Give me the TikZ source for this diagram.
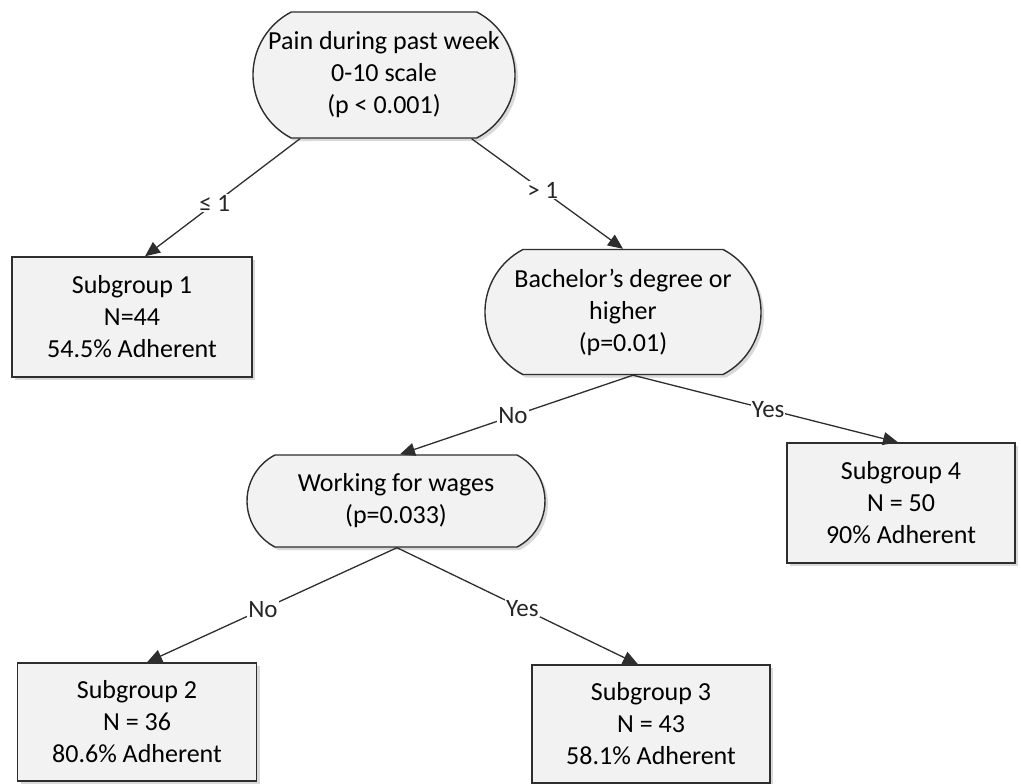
\documentclass[tikz,border=0pt]{standalone}
\usepackage{fontspec}
\setmainfont{Carlito}
\usetikzlibrary{shapes.misc,arrows.meta,calc,shadows}
\definecolor{edgegray}{HTML}{2E2E2E}
\definecolor{boxfill}{HTML}{F2F2F2}
\tikzset{
  base/.style={draw=edgegray, line width=1.4pt, fill=boxfill, align=center,
    font=\fontsize{26}{32}\selectfont, inner sep=0pt,
    drop shadow={shadow xshift=3pt, shadow yshift=-3pt, fill=black!25, opacity=0.6}},
  decision/.style={base, rounded rectangle, rounded rectangle arc length=125},
  leaf/.style={base, rectangle},
  conn/.style={draw=edgegray, line width=1.3pt, -{Triangle[length=15pt,width=13pt]}},
  elabel/.style={fill=white, inner sep=1pt, font=\fontsize{25}{30}\selectfont, text=black!85},
}
\begin{document}
\begin{tikzpicture}[x=1pt,y=-1pt]
\useasboundingbox (0,0) rectangle (1021,784);
\node[decision, minimum width=262pt, minimum height=126pt] (root) at (384,75)
  {Pain during past week\\0-10 scale\\(p {\textless} 0.001)};
\node[leaf, minimum width=240pt, minimum height=120pt] (s1) at (132,317)
  {Subgroup 1\\N=44\\54.5\% Adherent};
\node[decision, minimum width=276pt, minimum height=125pt] (bach) at (623,312)
  {Bachelor’s degree or\\higher\\(p=0.01)};
\node[leaf, minimum width=228pt, minimum height=120pt] (s4) at (901,503)
  {Subgroup 4\\N = 50\\90\% Adherent};
\node[decision, minimum width=298pt, minimum height=92pt] (work) at (396,501)
  {Working for wages\\(p=0.033)};
\node[leaf, minimum width=239pt, minimum height=118pt] (s2) at (137,722)
  {Subgroup 2\\N = 36\\80.6\% Adherent};
\node[leaf, minimum width=238pt, minimum height=118pt] (s3) at (651,724)
  {Subgroup 3\\N = 43\\58.1\% Adherent};

\coordinate (t1) at ($(s1.north)+(13,0)$);
\coordinate (tb) at (bach.north);
\coordinate (b0) at ($(bach.south)+(10,0)$);
\coordinate (w0) at ($(work.south)+(1,0)$);
\coordinate (tw) at ($(work.north)+(4,0)$);
\coordinate (t4) at ($(s4.north)+(-3,0)$);
\coordinate (t2) at ($(s2.north)+(10,0)$);
\coordinate (t3) at ($(s3.north)+(-13,0)$);

\draw[conn] (root) -- (t1) node[elabel, pos=0.55] {≤ 1};
\draw[conn] (root) -- (tb) node[elabel, pos=0.47] {> 1};
\draw[conn] (b0) -- (tw) node[elabel, pos=0.515] {No};
\draw[conn] (b0) -- (t4) node[elabel, pos=0.51] {Yes};
\draw[conn] (w0) -- (t2) node[elabel, pos=0.536] {No};
\draw[conn] (w0) -- (t3) node[elabel, pos=0.52] {Yes};
\end{tikzpicture}
\end{document}
